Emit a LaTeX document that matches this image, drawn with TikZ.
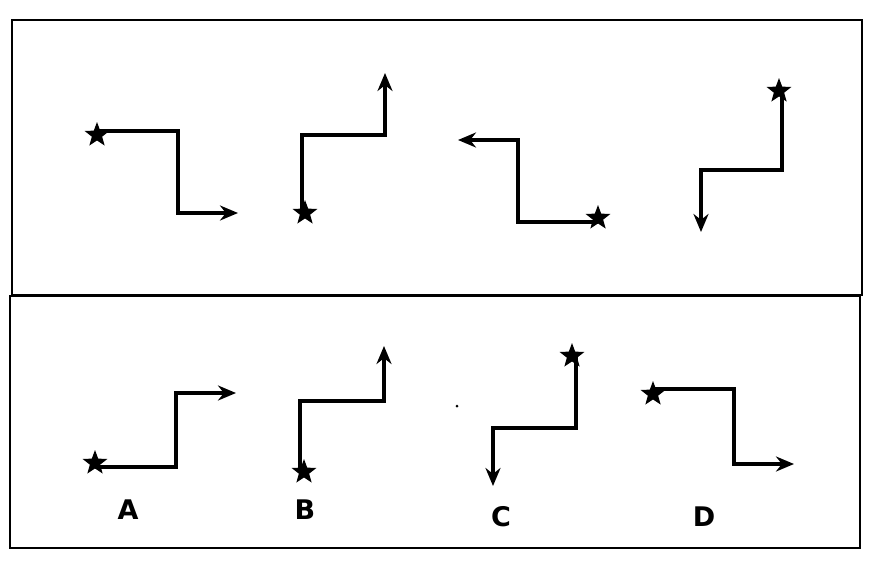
\documentclass[tikz,border=0pt]{standalone}
\usepackage{fontspec}
\setmainfont{DejaVu Sans}
\usetikzlibrary{shapes.geometric,arrows.meta}
\begin{document}
\begin{tikzpicture}[x=1pt,y=-1pt,
  pth/.style={line width=3.6pt,-{Stealth[length=18pt,width=15pt]}},
  st/.style={star,star points=5,star point ratio=2.4,fill=black,inner sep=0pt,minimum size=26pt},
  lab/.style={font=\bfseries\fontsize{27}{27}\selectfont}]
\useasboundingbox (0,0) rectangle (884,560);
\draw[line width=2pt] (12,20) rectangle (862,295);
\draw[line width=2pt] (10,296) rectangle (860,548);
% top
\node[st] (s1) at (97,135) {};
\draw[pth] (97,131) -- (178,131) -- (178,213) -- (238,213);
\node[st] (s2) at (305,213) {};
\draw[pth] (302,213) -- (302,135) -- (385,135) -- (385,73);
\node[st] (s3) at (598,218) {};
\draw[pth] (598,222) -- (518,222) -- (518,140) -- (458,140);
\node[st] (s4) at (779,91) {};
\draw[pth] (782,91) -- (782,170) -- (701,170) -- (701,232);
% bottom
\node[st] (a) at (95,463) {};
\draw[pth] (95,467) -- (176,467) -- (176,393) -- (236,393);
\node[st] (b) at (304,472) {};
\draw[pth] (300,472) -- (300,401) -- (384,401) -- (384,346);
\node[st] (c) at (572,356) {};
\draw[pth] (576,356) -- (576,428) -- (493,428) -- (493,486);
\node[st] (d) at (653,394) {};
\draw[pth] (653,389) -- (734,389) -- (734,464) -- (794,464);
\fill (457,406) circle (1.5pt);
\node[lab] (la) at (128,510) {A};
\node[lab] (lb) at (305,510) {B};
\node[lab] (lc) at (501,517) {C};
\node[lab] (ld) at (704,517) {D};
\end{tikzpicture}
\end{document}
